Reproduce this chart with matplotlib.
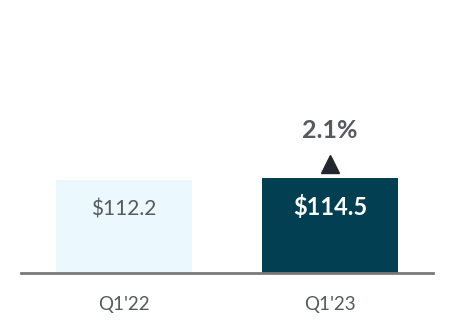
import matplotlib.pyplot as plt

# Данные
quarters = ["Q1'22", "Q1'23"]
revenue = [112.2, 114.5]
value_labels = ["$112.2", "$114.5"]
growth_label = "2.1%"

bar_colors = ["#EBF8FE", "#023F53"]
text_colors = ["#555A60", "white"]
text_weights = ["normal", "bold"]
text_sizes = [15, 17]

plt.rcParams['font.family'] = ['Lato', 'DejaVu Sans']

fig = plt.figure(figsize=(4.52, 3.32), dpi=100)
ax = fig.add_axes([21 / 452, 59.3 / 332, 412 / 452, 272.7 / 332])

x = range(len(quarters))
ax.bar(x, revenue, width=0.66, color=bar_colors)

# Подписи значений внутри столбцов
for i, v in enumerate(revenue):
    ax.annotate(value_labels[i], (i, v), xytext=(0, -21), textcoords='offset points',
                ha='center', va='center', fontsize=text_sizes[i], color=text_colors[i],
                fontweight=text_weights[i])

# Стрелка роста и процент
ax.plot([1], [revenue[1] + 14 / 0.826], marker='^', markersize=13.5, color='#22272E',
        linestyle='none')
ax.annotate(growth_label, (1, revenue[1]), xytext=(0, 34), textcoords='offset points',
            ha='center', va='center', fontsize=18, color='#555A60', fontweight='bold')

ax.set_xlim(-0.5, 1.5)
ax.set_ylim(0, 330)
ax.set_xticks(list(x))
ax.set_xticklabels(quarters, fontsize=13.5, color='#555A60')
ax.tick_params(axis='x', length=0, pad=17)
ax.set_yticks([])
for side in ['top', 'right', 'left']:
    ax.spines[side].set_visible(False)
ax.spines['bottom'].set_color('#7A7A7A')
ax.spines['bottom'].set_linewidth(2)

fig.savefig('out.png', dpi=100)
